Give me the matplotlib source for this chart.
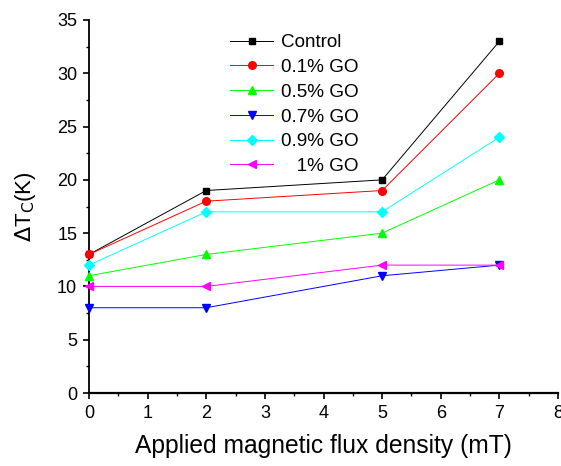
import matplotlib
matplotlib.use("Agg")
import matplotlib.pyplot as plt
from matplotlib.ticker import MultipleLocator

plt.rcParams["font.family"] = ["Liberation Sans", "DejaVu Sans"]

# Applied field (mT) and critical temperature shift (K) per sample
field = [0, 2, 5, 7]
control = [13, 19, 20, 33]
go_01 = [13, 18, 19, 30]
go_05 = [11, 13, 15, 20]
go_07 = [8, 8, 11, 12]
go_09 = [12, 17, 17, 24]
go_1 = [10, 10, 12, 12]

series = [
    (control, "Control", "black", "s", 5.0),
    (go_01, "0.1% GO", "red", "o", 5.5),
    (go_05, "0.5% GO", "#00ff00", "^", 6.0),
    (go_07, "0.7% GO", "blue", "v", 6.0),
    (go_09, "0.9% GO", "cyan", "D", 4.8),
    (go_1, "   1% GO", "magenta", "<", 6.0),
]

W, H = 561, 466
fig = plt.figure(figsize=(W / 100, H / 100), dpi=100)
ax = fig.add_axes([89 / W, 1 - 393 / H, 469 / W, 373 / H])

for vals, label, color, marker, ms in series:
    ax.plot(field, vals, color=color, lw=0.7, marker=marker, ms=ms,
            mec=color, mfc=color, label=label, clip_on=False, zorder=3)

ax.set_xlim(0, 8)
ax.set_ylim(0, 35)
ax.xaxis.set_major_locator(MultipleLocator(1))
ax.xaxis.set_minor_locator(MultipleLocator(0.5))
ax.yaxis.set_major_locator(MultipleLocator(5))
ax.yaxis.set_minor_locator(MultipleLocator(2.5))

for side in ("top", "right"):
    ax.spines[side].set_visible(False)
ax.spines["left"].set_linewidth(1.3)
ax.spines["bottom"].set_linewidth(1.6)

ax.tick_params(which="major", direction="out", length=4.5, width=1.2,
               labelsize=13, pad=4)
ax.tick_params(which="minor", direction="out", length=2.5, width=1.0)

ax.set_xlabel("Applied magnetic flux density (mT)", fontsize=17.7, labelpad=9)
ax.set_ylabel(r"$\Delta$T$_\mathrm{C}$(K)", fontsize=16, labelpad=14)

ax.legend(loc="upper left", bbox_to_anchor=(230 / W, 1 - 34 / H),
          bbox_transform=fig.transFigure, frameon=False,
          fontsize=13.6, handlelength=2.3, handletextpad=0.4,
          labelspacing=0.4, borderpad=0, borderaxespad=0)

fig.savefig("out.png", dpi=100)
